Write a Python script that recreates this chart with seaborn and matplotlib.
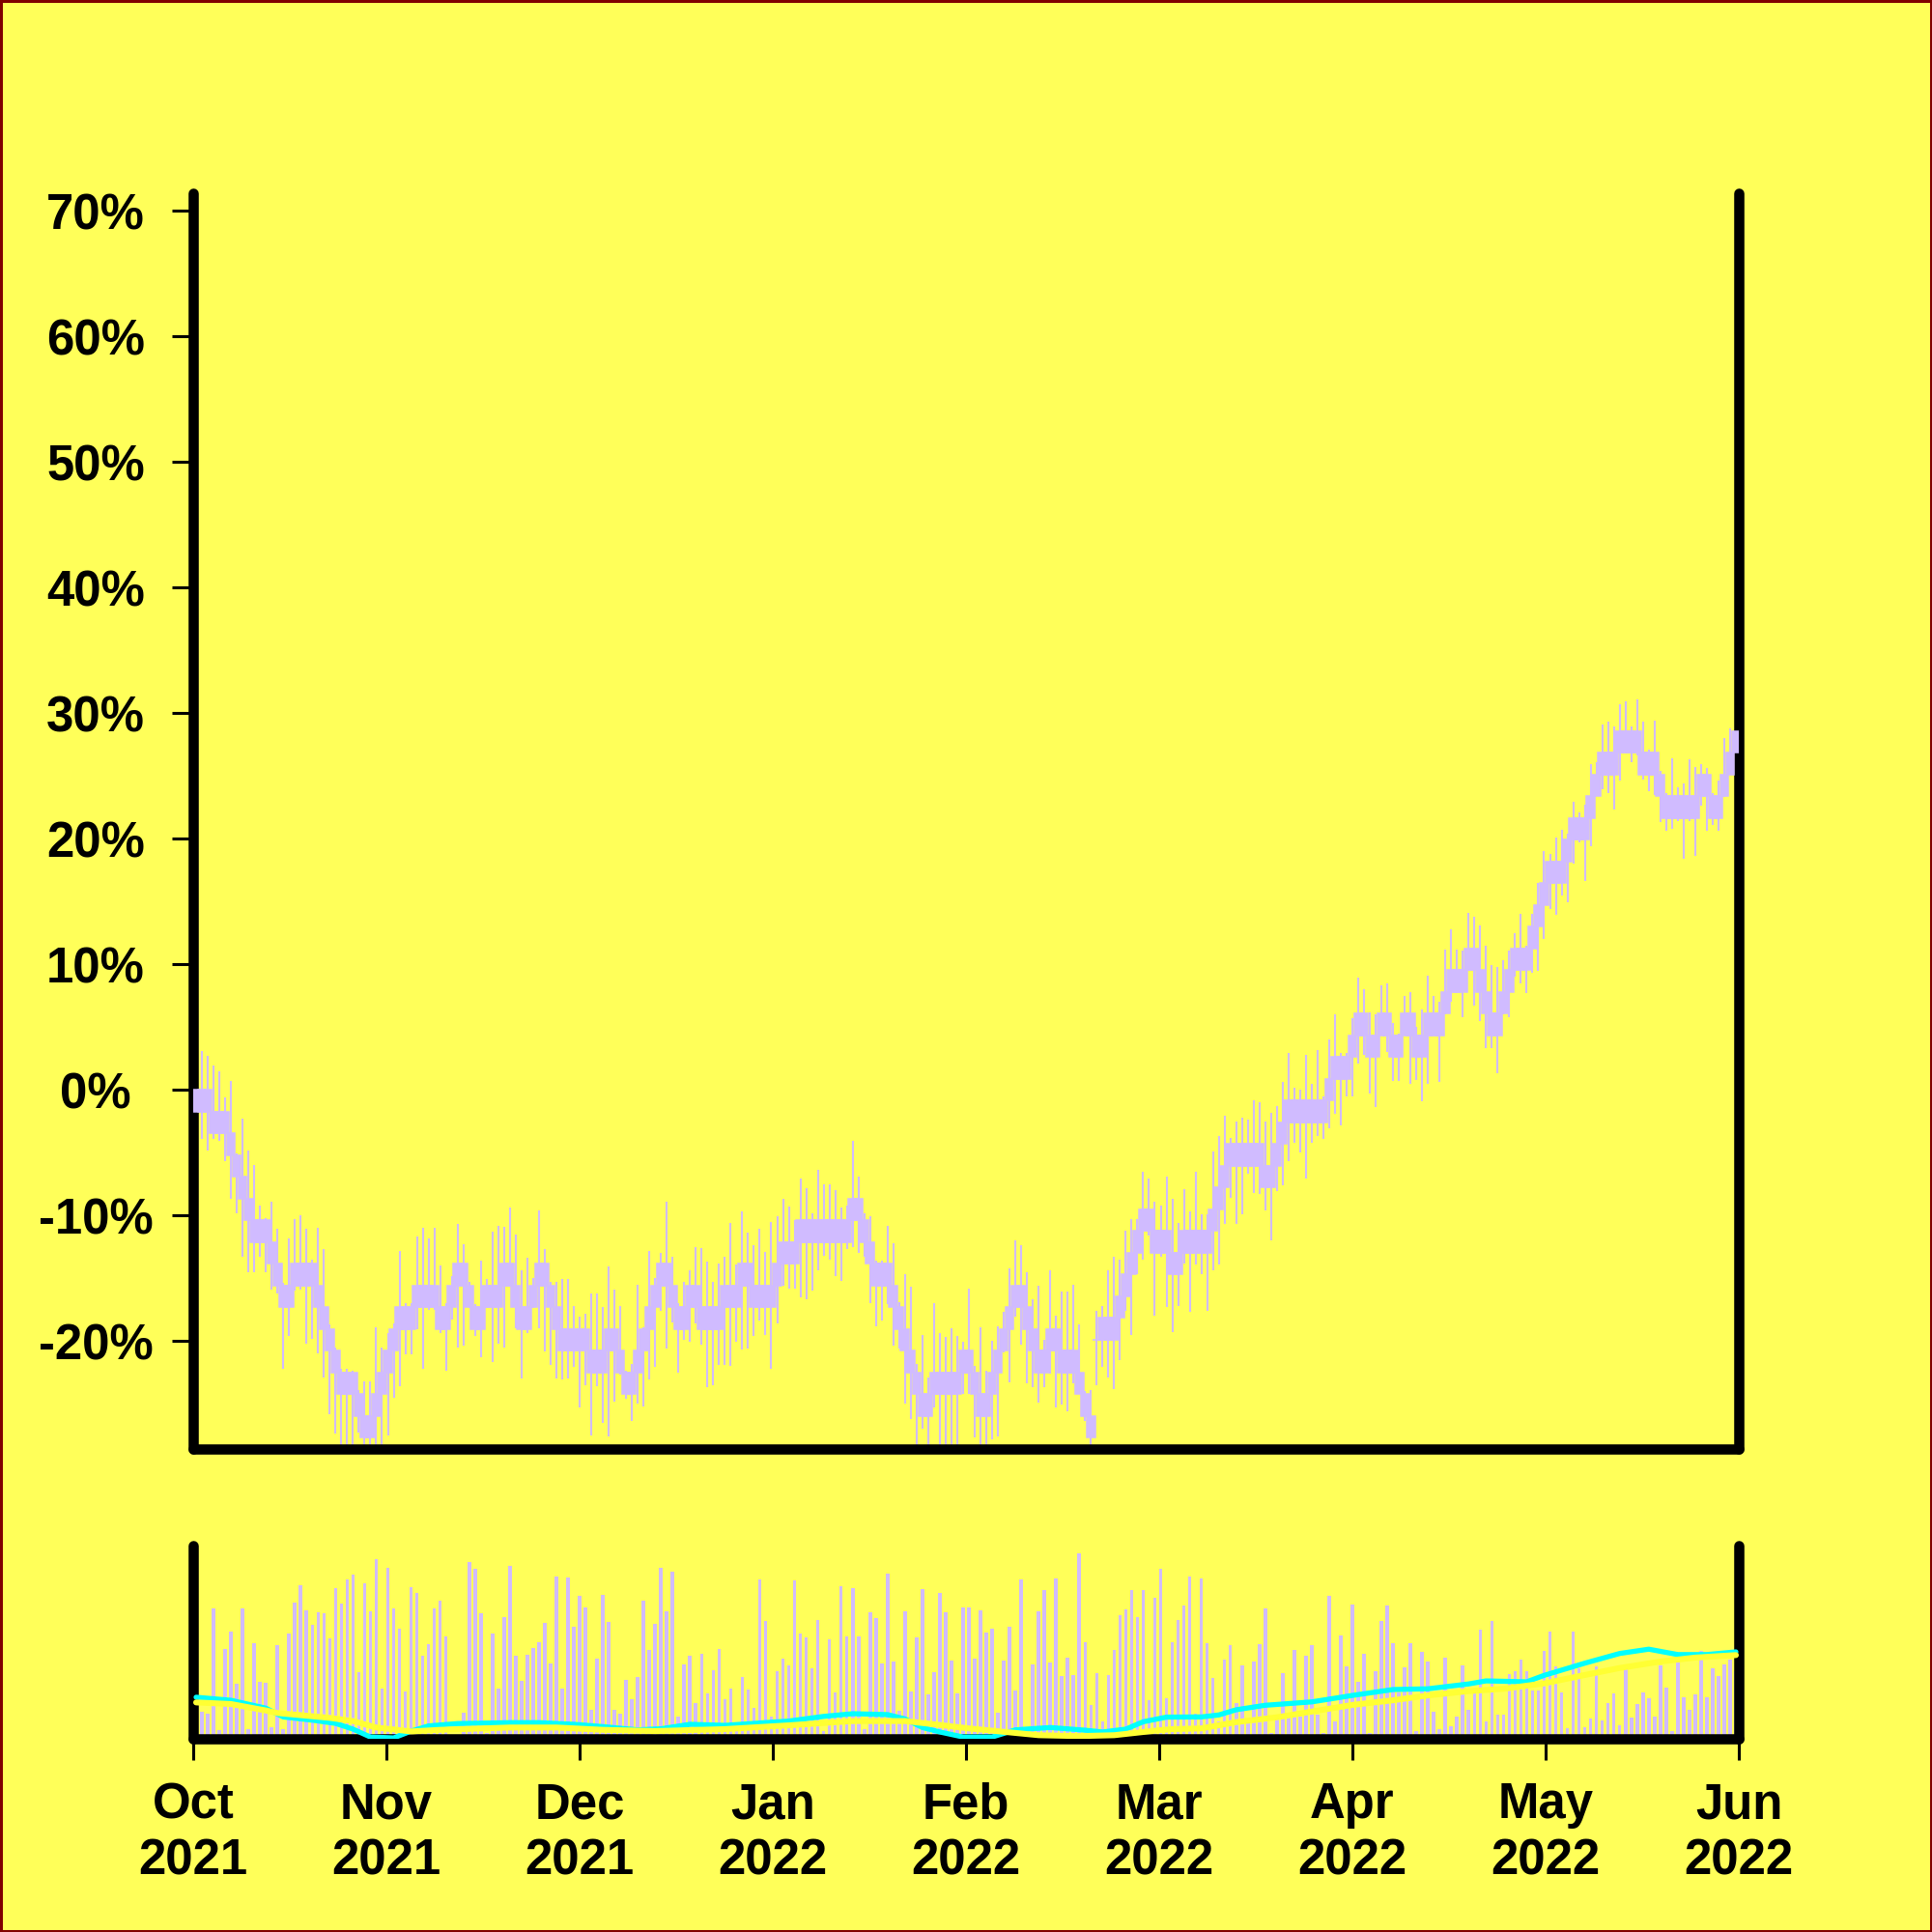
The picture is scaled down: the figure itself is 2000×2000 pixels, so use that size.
import numpy as np
import matplotlib
matplotlib.use("Agg")
import matplotlib.pyplot as plt
import seaborn as sns

# ---------------- data (values in % change) ----------------
BRICK = 1.731  # body size of one price brick, in %

brick_level = [
    0, 0, 0, 1, 1, 1, 2, 3, 4, 5,
    6, 6, 6, 7, 8, 9, 9, 8, 8, 8,
    8, 9, 10, 11, 12, 13, 13, 13, 14, 15,
    15, 14, 13, 12, 11, 10, 10, 10, 9, 9,
    9, 9, 10, 10, 9, 8, 8, 9, 10, 10,
    9, 9, 9, 8, 8, 9, 10, 10, 9, 8,
    8, 9, 10, 11, 11, 11, 11, 11, 12, 12,
    12, 11, 11, 12, 13, 13, 12, 11, 10, 9,
    8, 8, 9, 10, 10, 9, 9, 10, 10, 10,
    10, 9, 9, 9, 8, 8, 9, 9, 9, 9,
    8, 7, 7, 7, 6, 6, 6, 6, 6, 6,
    6, 6, 6, 5, 5, 6, 7, 8, 8, 8,
    9, 10, 11, 12, 13, 14, 14, 13, 13, 13,
    13, 13, 12, 12, 13, 14, 14, 13, 12, 11,
    10, 9, 9, 10, 11, 12, 12, 11, 11, 12,
    12, 12, 13, 14, 15, 11.5, 10.5, 10.5, 10.5, 9.5,
    8.5, 7.5, 6.5, 5.5, 5.5, 6.5, 6.5, 6.5, 7.5, 7.5,
    6.5, 6.5, 6.5, 6.5, 6.5, 5.5, 4.5, 3.5, 2.5, 2.5,
    2.5, 2.5, 2.5, 2.5, 3.5, 3.5, 2.5, 1.5, 0.5, 0.5,
    0.5, 0.5, 0.5, 0.5, 0.5, -0.5, -1.5, -1.5, -1.5, -2.5,
    -3.5, -3.5, -2.5, -2.5, -3.5, -3.5, -2.5, -2.5, -3.5, -3.5,
    -2.5, -2.5, -3.5, -3.5, -3.5, -4.5, -5.5, -5.5, -5.5, -6.5,
    -6.5, -5.5, -4.5, -3.5, -3.5, -4.5, -5.5, -6.5, -6.5, -6.5,
    -7.5, -8.5, -9.5, -10.5, -10.5, -10.5, -11.5, -12.5, -12.5, -12.5,
    -13.5, -14.5, -15.5, -15.5, -15.5, -16.5, -16.5, -16.5, -16.5, -15.5,
    -15.5, -15.5, -14.5, -13.5, -13.5, -13.5, -13.5, -13.5, -13.5, -14.5,
    -14.5, -13.5, -13.5, -14.5, -15.5, -16.5,
]
doji = [155]  # candles whose open equals close

wick_high = [
    1.5, 3.1, 2.7, 1.9, 1.5, -0.6, 0.7, -5.1, -2.3, -4.8,
    -6.0, -9.2, -10.2, -8.9, -11.1, -15.4, -11.8, -10.3, -10.0, -11.1,
    -13.5, -11.0, -12.7, -18.7, -20.5, -22.2, -22.2, -22.4, -23.9, -23.2,
    -23.2, -18.9, -20.5, -19.4, -18.6, -12.8, -17.0, -17.0, -11.7, -11.0,
    -11.8, -11.0, -14.0, -17.0, -14.8, -10.7, -12.3, -15.3, -17.1, -13.6,
    -15.1, -11.3, -10.8, -10.9, -9.4, -11.5, -14.4, -13.4, -15.0, -9.6,
    -12.7, -15.3, -15.3, -15.1, -15.1, -17.2, -18.1, -17.8, -16.2, -16.2,
    -17.3, -14.1, -15.9, -17.2, -22.4, -21.8, -15.5, -18.9, -12.8, -15.0,
    -13.0, -8.9, -13.3, -17.0, -15.3, -14.4, -12.5, -12.6, -13.7, -15.3,
    -13.8, -13.3, -10.6, -13.9, -9.7, -11.4, -12.4, -11.1, -12.9, -10.5,
    -10.1, -8.7, -9.3, -10.4, -7.1, -7.8, -9.8, -6.4, -7.5, -7.5,
    -8.0, -9.4, -9.2, -4.1, -6.9, -9.8, -10.1, -13.6, -13.6, -10.8,
    -12.2, -16.9, -14.7, -15.7, -21.8, -19.5, -22.9, -17.0, -19.4, -19.7,
    -19.0, -19.6, -20.1, -15.8, -22.0, -18.9, -22.4, -20.0, -18.8, -17.7,
    -14.2, -12.0, -12.4, -14.5, -16.7, -15.6, -19.9, -14.4, -18.0, -16.1,
    -16.1, -15.5, -18.7, -24.0, -23.9, -17.6, -17.2, -14.4, -13.3, -13.5,
    -11.2, -10.3, -10.3, -6.5, -7.1, -8.9, -9.2, -6.9, -8.7, -10.6,
    -7.9, -9.7, -6.5, -9.9, -9.9, -4.9, -3.7, -2.1, -3.8, -2.5,
    -2.2, -2.4, -0.8, -1.0, -2.5, -1.8, -1.3, 0.6, 2.9, 0.2,
    0.0, 2.8, 0.5, 3.2, -0.5, 4.0, 6.0, 2.9, 2.9, 5.7,
    8.9, 8.0, 6.2, 6.0, 8.3, 8.5, 5.3, 4.5, 7.5, 7.8,
    5.0, 6.4, 9.1, 7.5, 7.0, 11.2, 12.8, 11.2, 11.1, 14.1,
    13.8, 13.1, 11.5, 9.9, 9.8, 10.3, 11.1, 12.5, 14.0, 11.5,
    14.0, 16.5, 19.0, 18.8, 20.1, 20.7, 20.4, 22.9, 22.1, 22.7,
    25.9, 26.1, 29.1, 29.3, 28.9, 30.7, 30.9, 28.9, 31.1, 29.3,
    27.1, 29.4, 25.4, 23.6, 26.4, 24.1, 24.4, 26.3, 25.7, 25.9,
    25.6, 23.6, 24.6, 28.0, 28.8, 30.0,
]

wick_low = [
    -2.5, -3.9, -4.8, -3.9, -4.1, -5.7, -8.7, -9.8, -13.3, -14.5,
    -14.5, -13.3, -14.5, -15.9, -16.2, -22.2, -19.6, -16.0, -15.9, -20.2,
    -19.8, -21.0, -22.9, -25.8, -27.4, -29.5, -29.5, -29.5, -27.3, -29.5,
    -29.5, -29.5, -29.5, -27.5, -24.5, -23.6, -21.1, -21.1, -19.1, -22.2,
    -17.5, -17.5, -19.4, -22.4, -18.3, -20.5, -20.4, -17.4, -19.6, -21.3,
    -17.4, -21.7, -20.2, -20.5, -15.7, -19.0, -23.0, -19.4, -17.4, -19.0,
    -20.8, -21.9, -23.0, -23.1, -23.0, -22.1, -25.3, -23.5, -27.5, -23.6,
    -26.5, -27.6, -24.8, -22.7, -24.6, -26.4, -25.0, -25.2, -23.1, -22.1,
    -17.6, -20.6, -18.5, -22.5, -19.9, -20.1, -18.6, -20.3, -23.7, -23.5,
    -21.9, -21.9, -22.0, -20.1, -20.7, -20.6, -19.6, -18.4, -19.5, -22.2,
    -18.6, -15.6, -15.8, -15.8, -16.5, -16.7, -16.0, -14.4, -13.2, -13.5,
    -14.8, -15.2, -12.7, -12.5, -13.0, -13.3, -17.0, -18.8, -18.4, -17.1,
    -20.4, -20.6, -25.0, -26.2, -29.5, -27.0, -29.5, -25.3, -29.5, -29.5,
    -29.5, -29.5, -24.2, -24.2, -27.7, -29.5, -29.5, -27.8, -27.6, -20.9,
    -23.3, -18.1, -20.3, -23.4, -23.7, -24.9, -23.7, -22.6, -25.3, -25.1,
    -25.6, -23.4, -24.2, -26.4, -29.5, -23.5, -22.1, -22.9, -23.8, -21.5,
    -17.6, -19.5, -14.7, -13.5, -11.6, -18.0, -13.3, -17.3, -19.3, -17.2,
    -13.8, -17.7, -13.9, -14.7, -17.6, -14.4, -13.9, -10.7, -8.6, -10.7,
    -9.9, -6.7, -8.2, -8.3, -9.6, -12.0, -8.1, -7.6, -5.7, -4.2,
    -5.0, -7.1, -4.2, -3.7, -3.9, -3.1, -1.9, -2.8, -0.5, -0.5,
    2.1, 2.8, -0.3, -1.4, 4.3, 3.0, 0.7, 0.7, 4.3, 0.5,
    0.8, -0.9, 0.5, 4.3, 0.6, 6.0, 7.0, 7.7, 5.8, 9.5,
    6.7, 5.5, 3.3, 3.3, 1.3, 6.0, 5.8, 9.0, 8.5, 7.7,
    9.3, 9.5, 12.0, 14.4, 13.9, 15.5, 14.9, 18.0, 19.7, 16.6,
    19.4, 23.4, 23.9, 23.6, 22.3, 24.6, 26.8, 26.1, 26.6, 24.7,
    23.8, 23.5, 21.3, 20.6, 20.8, 21.4, 18.4, 21.4, 18.6, 22.6,
    20.6, 21.1, 20.6, 23.3, 25.1, 26.8,
]

volume = [
    30, 14.2, 12.8, 67.5, 4.7, 46.7, 55.3, 28.7, 67.5, 5,
    49.5, 29.5, 29.2, 6, 48.7, 5, 54.5, 70.5, 79.5, 66.5,
    59, 65.5, 64.8, 52.2, 77.8, 69.8, 82.7, 85.2, 34.7, 80.3,
    66.2, 93.2, 26.2, 88.7, 67.7, 57.2, 24.5, 78.7, 75.7, 43.2,
    49.2, 67.5, 71.5, 53.2, 2, 2, 13.7, 91.7, 88.2, 65.2,
    3, 54.5, 26.2, 63.2, 89.7, 43.2, 29.8, 43.7, 47.2, 50,
    60, 39.2, 83.8, 26.2, 83.5, 57.8, 74.2, 68.2, 15.2, 41.7,
    74.3, 60.5, 15.2, 13.2, 30.7, 20.7, 31.8, 71.7, 46.2, 59.7,
    88.7, 66.2, 86.3, 11.7, 38.3, 43.2, 18.7, 44.2, 23.7, 35.3,
    46.7, 20.7, 26.2, 4, 32.2, 25.7, 16.2, 82.5, 60.8, 11.7,
    35, 41.7, 38, 81.8, 54.7, 52.5, 36.7, 61.7, 4, 51.7,
    24.2, 79.2, 53.2, 77.8, 52.8, 5, 65.3, 62.7, 39.2, 85.5,
    40, 14.7, 65.8, 24.7, 52.5, 77.5, 23.2, 34.5, 75.7, 65.7,
    40.3, 23.3, 68, 68, 41.7, 66.3, 55.2, 57.2, 13.3, 40.3,
    57.8, 25, 82.5, 4, 38.7, 66.2, 77.2, 39.7, 83, 32.3,
    42.2, 32.8, 96, 50.2, 17.7, 34, 9.2, 32.8, 46, 64,
    67.2, 77.2, 63.2, 77.2, 20.2, 73.2, 88.2, 21.2, 50, 61.3,
    68.8, 83.8, 12.8, 83.2, 49.7, 31.3, 9.2, 41, 48.7, 18.7,
    38, 8.3, 39.8, 48.8, 67.5, 3, 10, 34, 10.8, 46.2,
    11.7, 43, 48.5, 12.5, 3, 74, 9.2, 53.5, 37.5, 69.3,
    29.5, 44.2, 3, 35, 61.2, 68.8, 49.5, 24.2, 37, 49.5,
    3.8, 45, 40, 13.8, 5, 42.2, 6.7, 11.7, 38, 15,
    23.5, 56.5, 8.8, 60.8, 12.3, 12.5, 33.5, 35, 41.2, 35,
    25, 25, 45.5, 55.3, 37.5, 24.2, 5.5, 55.3, 36.7, 5.8,
    10.5, 37.5, 9.7, 18.5, 23.5, 7, 38.3, 11.2, 18.2, 24.2,
    20.8, 11.7, 38.2, 26.5, 4, 39.3, 21.3, 15, 23.2, 45.5,
    21.3, 36.5, 32.5, 38.7, 41, 35,
]

# moving averages of the price (%), read at these candle positions
ma_fast_idx = [0, 6, 12, 15, 20, 24, 27, 30, 34, 37, 40, 45, 54, 59, 65, 70, 76, 80, 85, 91,
               96, 102, 108, 113, 119, 122, 125, 128, 132, 137, 141, 147, 153, 156, 160, 163,
               167, 173, 176, 179, 184, 192, 199, 206, 212, 219, 222, 229, 232, 239, 245, 250,
               255, 260, 265]
ma_fast = [-1.8, -3.5, -7.9, -12.8, -14.6, -16.4, -19.6, -24, -24.5, -20.7, -17.8, -16.5, -16.0,
           -16.0, -16.9, -18.2, -20.0, -19.4, -16.9, -17.5, -16.4, -15.1, -12.5, -11.0, -11.5,
           -13.9, -18.7, -21.2, -24, -24, -20.0, -18.7, -20.2, -21.2, -19.6, -15.5, -12.9, -12.8,
           -11.7, -8.8, -6.3, -4.4, -0.8, 2.5, 2.9, 5.6, 7.3, 6.8, 10.4, 17.2, 22.6, 25.0, 22.0,
           22.0, 23.5]
ma_slow_idx = [0, 6, 12, 14, 17, 23, 27, 31, 37, 42, 54, 62, 70, 79, 91, 102, 113, 122, 127, 133,
               139, 145, 152, 158, 165, 168, 173, 179, 186, 192, 199, 206, 212, 219, 225, 232,
               239, 245, 252, 258, 265]
ma_slow = [-4.7, -5.6, -9.2, -10.6, -11.5, -13.3, -15.1, -18.7, -20.9, -20.0, -18.7, -18.7,
           -20.0, -20.7, -19.6, -17.5, -15.1, -15.1, -16.9, -19.2, -21.1, -23, -23.5, -23, -20.5,
           -19.6, -19.2, -15.7, -13.0, -9.8, -6.1, -3.5, -0.8, 1.6, 2.9, 5.9, 10.6, 14.5, 18.1,
           20.3, 21.7]

y_ticks = [-20, -10, 0, 10, 20, 30, 40, 50, 60, 70]
x_tick_labels = ["Oct\n2021", "Nov\n2021", "Dec\n2021", "Jan\n2022", "Feb\n2022",
                 "Mar\n2022", "Apr\n2022", "May\n2022", "Jun\n2022"]

# ---------------- style ----------------
BG = "#ffff59"
CANDLE = "#d0bbff"
FAST = "#00ffff"
SLOW = "#ffff33"
EDGE = "#800000"
FONT_SIZE = 18.3

sns.set_theme(style="white")
plt.rcParams["font.family"] = ["Liberation Sans", "DejaVu Sans"]
plt.rcParams["font.weight"] = "bold"

n = len(brick_level)
idx = np.arange(n)
lvl = np.array(brick_level, dtype=float)
top = -BRICK * lvl
height = np.full(n, BRICK)
height[doji] = 0.0
bottom = top - height

fig = plt.figure(figsize=(10, 10), dpi=200)
fig.patch.set_facecolor(BG)
fig.patch.set_edgecolor(EDGE)
fig.patch.set_linewidth(1.2)

ax = fig.add_axes([0.1, 0.25, 0.8, 0.65])
axv = fig.add_axes([0.1, 0.1, 0.8, 0.1], sharex=ax)

for a in (ax, axv):
    a.set_facecolor(BG)
    a.grid(False)
    a.spines["top"].set_visible(False)
    for s in ("left", "right", "bottom"):
        sp = a.spines[s]
        sp.set_visible(True)
        sp.set_color("black")
        sp.set_linewidth(3.8)
        sp.set_capstyle("round")

# candles
ax.vlines(idx, wick_low, wick_high, color=CANDLE, linewidth=0.75, zorder=2)
ax.bar(idx, height, bottom=bottom, width=1.45, color=CANDLE, edgecolor=CANDLE,
       linewidth=0.55, zorder=3)
ax.set_xlim(-0.5, n - 0.5)
ax.set_ylim(-28.6, 71.4)
ax.set_yticks(y_ticks)
ax.set_yticklabels([f"{v}%" for v in y_ticks])
ax.tick_params(axis="y", left=True, right=False, direction="out", length=7.9, width=1.1,
               color="black", pad=28.4, labelsize=FONT_SIZE, labelcolor="black")
for t in ax.get_yticklabels():
    t.set_horizontalalignment("center")
    t.set_fontweight("bold")
ax.tick_params(axis="x", bottom=False, labelbottom=False)

# volume
axv.bar(idx, volume, width=0.6, color=CANDLE, linewidth=0, zorder=2)
axv.set_ylim(0, 100)
axv.set_yticks([])
axv.tick_params(axis="y", left=False, labelleft=False)
xt = np.linspace(-0.5, n - 0.5, len(x_tick_labels))
axv.set_xticks(xt)
axv.set_xticklabels(x_tick_labels)
axv.tick_params(axis="x", bottom=True, direction="out", length=7.9, width=1.1, color="black",
                pad=8.0, labelsize=FONT_SIZE, labelcolor="black")
for t in axv.get_xticklabels():
    t.set_fontweight("bold")
    t.set_linespacing(1.25)

# moving averages on the volume panel
axt = axv.twinx()
axt.set_facecolor("none")
for s in axt.spines.values():
    s.set_visible(False)
sns.lineplot(x=ma_fast_idx, y=ma_fast, ax=axt, color=FAST, linewidth=1.9, zorder=3)
sns.lineplot(x=ma_slow_idx, y=ma_slow, ax=axt, color=SLOW, linewidth=2.2, zorder=4)
axt.set_ylim(-25.0, 82.8)
axt.set_yticks([])
axt.tick_params(axis="y", right=False, labelright=False)
axt.set_xlim(-0.5, n - 0.5)

fig.savefig("out.png", dpi=200, facecolor=BG, edgecolor=EDGE)
